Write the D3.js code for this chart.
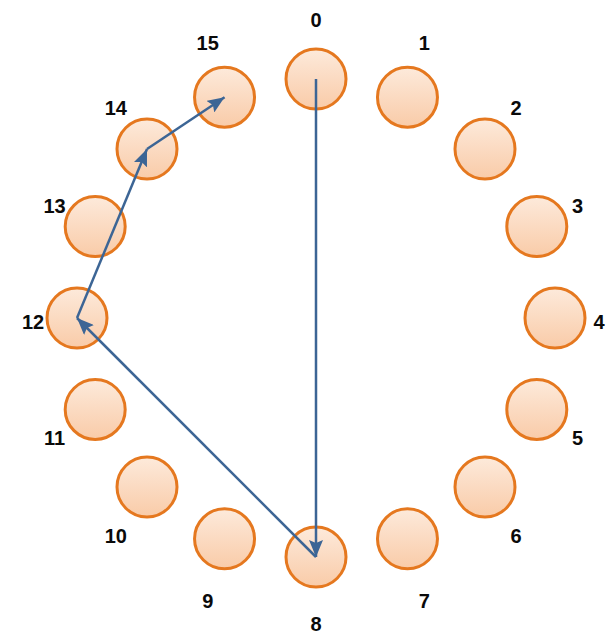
<!DOCTYPE html>
<html>
<head>
<meta charset="utf-8">
<script src="https://cdn.jsdelivr.net/npm/d3@7"></script>
<style>
  body { margin: 0; background: #fff; }
  .label { font-family: "Liberation Sans", Arial, sans-serif; font-weight: bold; font-size: 20px; fill: #0a0a0a; }
</style>
</head>
<body>
<div id="graph"></div>
<script>
// 16 slots on the ring, and the walk drawn with arrows
const nodeIds = d3.range(16);
const walk = [0, 8, 12, 14, 15];

const width = 608;
const height = 637;
const cx = 316, cy = 318;
const ringRadius = 239;
const labelRx = 283, labelRy = 302;   // labels sit on a slightly taller ellipse
const labelShift = 4;                 // and a little lower than the ring centre
const nodeR = 30;

// slot index -> angle (clockwise from the top)
const angle = d3.scaleLinear().domain([0, nodeIds.length]).range([0, 2 * Math.PI]);
const px = (i, r) => cx + r * Math.sin(angle(i));
const py = (i, r) => cy - r * Math.cos(angle(i));

const svg = d3.select("#graph")
    .append("svg")
    .attr("width", width)
    .attr("height", height);

const defs = svg.append("defs");
const grad = defs.append("linearGradient")
    .attr("id", "nodeFill")
    .attr("x1", 0).attr("y1", 0).attr("x2", 0).attr("y2", 1);
grad.append("stop").attr("offset", "0%").attr("stop-color", "#fdeadb");
grad.append("stop").attr("offset", "100%").attr("stop-color", "#f9cba8");

defs.append("marker")
    .attr("id", "arrow")
    .attr("markerUnits", "userSpaceOnUse")
    .attr("viewBox", "0 -7 17 14")
    .attr("refX", 17)
    .attr("refY", 0)
    .attr("markerWidth", 17)
    .attr("markerHeight", 14)
    .attr("orient", "auto")
    .append("path")
    .attr("d", "M0,-7L17,0L0,7L3,0Z")
    .attr("fill", "#3c6595");

// nodes
const node = svg.selectAll(".node")
    .data(nodeIds)
    .join("g")
    .attr("class", "node")
    .attr("transform", d => `translate(${px(d, ringRadius)}, ${py(d, ringRadius)})`);

node.append("circle")
    .attr("r", nodeR)
    .attr("fill", "url(#nodeFill)")
    .attr("stroke", "#e5781f")
    .attr("stroke-width", 3);

svg.selectAll(".label")
    .data(nodeIds)
    .join("text")
    .attr("class", "label")
    .attr("x", d => px(d, labelRx))
    .attr("y", d => py(d, labelRy) + labelShift)
    .attr("text-anchor", "middle")
    .attr("dominant-baseline", "central")
    .text(d => d);

// walk edges
const links = d3.pairs(walk).map(([s, t]) => ({ source: s, target: t }));

svg.selectAll(".link")
    .data(links)
    .join("line")
    .attr("class", "link")
    .attr("x1", d => px(d.source, ringRadius))
    .attr("y1", d => py(d.source, ringRadius))
    .attr("x2", d => px(d.target, ringRadius))
    .attr("y2", d => py(d.target, ringRadius))
    .attr("stroke", "#3c6595")
    .attr("stroke-width", 2.5)
    .attr("marker-end", "url(#arrow)");
</script>
</body>
</html>
